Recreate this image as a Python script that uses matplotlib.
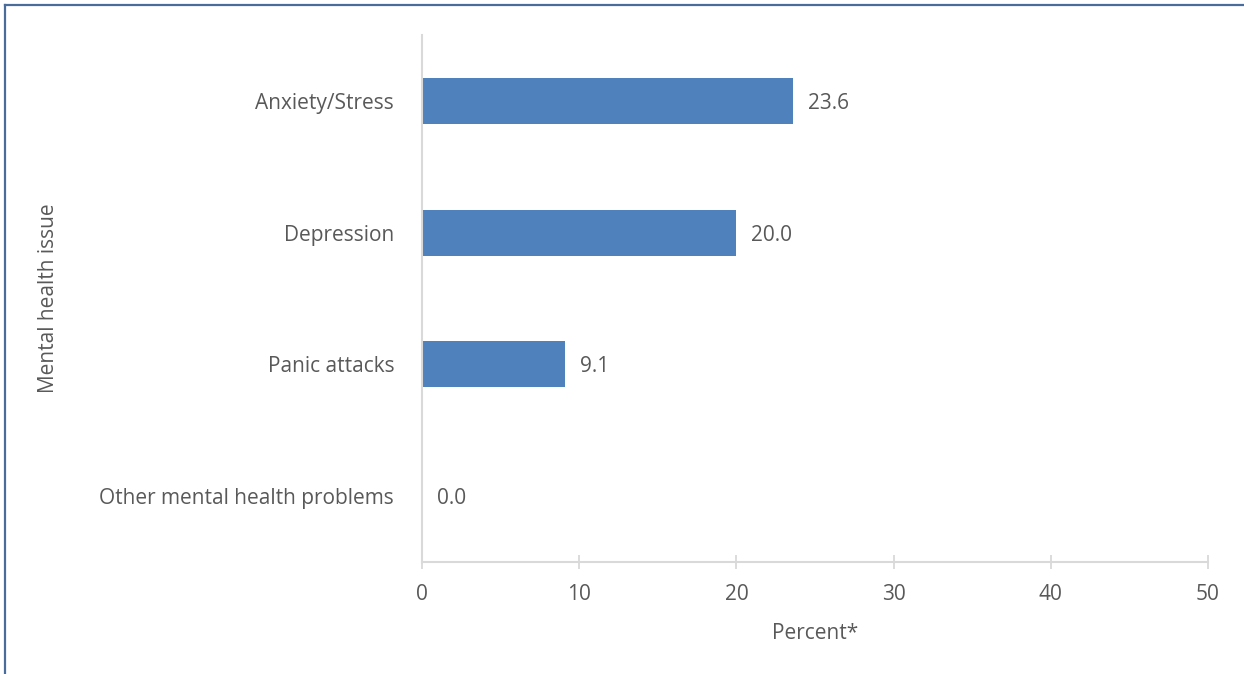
import numpy as np
import matplotlib.pyplot as plt
from matplotlib.lines import Line2D

# Dades
categories = ['Anxiety/Stress', 'Depression', 'Panic attacks', 'Other mental health problems']
values = [23.6, 20.0, 9.1, 0.0]
xticks = [0, 10, 20, 30, 40, 50]

text_col = '#595959'
axis_col = '#D9D9D9'
bar_col = '#4F81BD'
fs = 15

plt.rcParams['font.family'] = ['Open Sans', 'DejaVu Sans']

fig = plt.figure(figsize=(12.44, 6.74), dpi=100)
ax = fig.add_axes([422/1244, 1 - 562/674, (1208 - 422)/1244, (562 - 35)/674])

y = np.arange(len(categories))
ax.barh(y, values, height=0.35, color=bar_col)
for yi, v in zip(y, values):
    ax.text(v + 0.95, yi, f'{v:.1f}', va='center_baseline', ha='left', fontsize=fs, color=text_col)

ax.set_xlim(0, 50)
ax.set_ylim(len(categories) - 0.5, -0.5)
ax.set_yticks(y)
ax.set_yticklabels(categories, fontsize=fs, color=text_col)
ax.set_xticks(xticks)
ax.set_xticklabels([str(t) for t in xticks], fontsize=fs, color=text_col)

ax.tick_params(axis='y', length=0, pad=20)
ax.tick_params(axis='x', direction='inout', length=10, width=1.3, color=axis_col, pad=11)
for s in ['top', 'right']:
    ax.spines[s].set_visible(False)
for s in ['left', 'bottom']:
    ax.spines[s].set_color(axis_col)
    ax.spines[s].set_linewidth(1.5)

ax.set_xlabel('Percent*', fontsize=fs, color=text_col, labelpad=13)
ax.set_ylabel('Mental health issue', fontsize=fs, color=text_col, labelpad=29)

# Vora del gràfic (esquerra i dalt)
border = '#4A6C9B'
fig.add_artist(Line2D([5/1244, 5/1244], [0, 1 - 5/674], color=border, lw=1.6, transform=fig.transFigure))
fig.add_artist(Line2D([5/1244, 1], [1 - 5/674, 1 - 5/674], color=border, lw=1.6, transform=fig.transFigure))

fig.savefig('out.png', dpi=100)
